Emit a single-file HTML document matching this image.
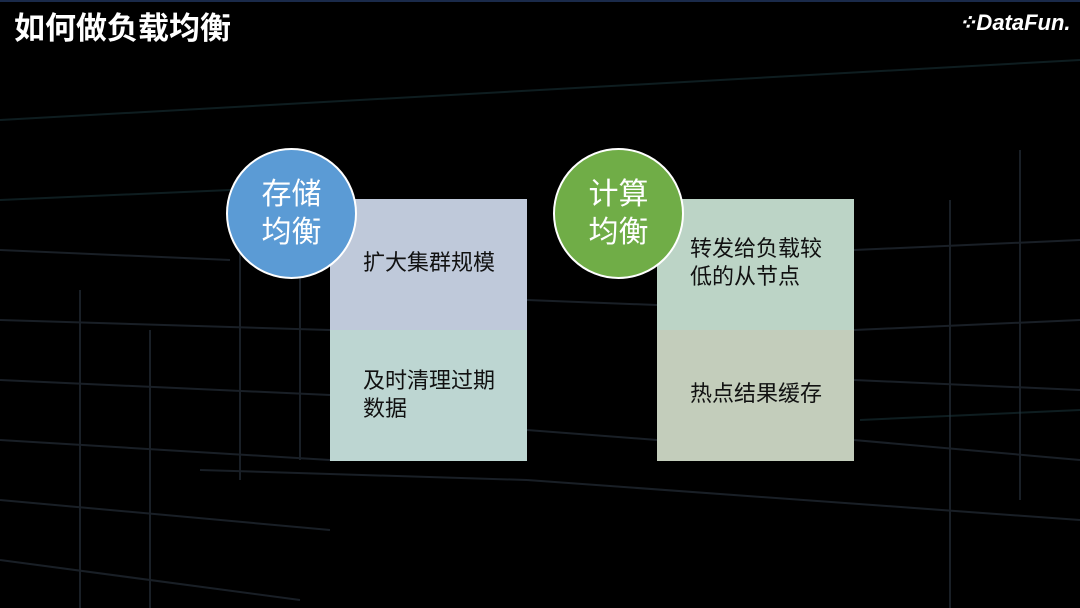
<!DOCTYPE html>
<html><head><meta charset="utf-8"><style>
body{margin:0;width:1080px;height:608px;overflow:hidden;background:#000;position:relative;font-family:"Liberation Sans","Noto Sans CJK SC",sans-serif}
.a{position:absolute}
.title{left:14px;top:3px;font-size:31px;font-weight:bold;color:#fff;letter-spacing:0px}
.box{position:absolute;width:197px;height:131px;box-sizing:border-box;font-size:22px;color:#111;line-height:28px;padding-left:33px}
.c{position:absolute;width:128px;height:128px;border-radius:50%;border:2px solid #fff;box-sizing:border-box;color:#fff;font-size:30px;line-height:38px;text-align:center;display:flex;align-items:center;justify-content:center}
</style></head><body>
<svg class="a" style="left:0;top:0" width="1080" height="608">
<rect x="0" y="0" width="1080" height="2" fill="#1a2a4a"/>
<g stroke="#2a3440" stroke-width="2" fill="none" opacity="0.6">
<path d="M0 320 L330 330"/><path d="M0 380 L330 395"/><path d="M0 440 L330 460"/>
<path d="M0 500 L330 530"/><path d="M0 560 L300 600"/><path d="M80 290 L80 608"/>
<path d="M150 330 L150 608"/><path d="M240 200 L240 480"/><path d="M300 250 L300 460"/>
<path d="M854 330 L1080 320"/><path d="M854 380 L1080 390"/><path d="M854 250 L1080 240"/>
<path d="M854 440 L1080 460"/><path d="M950 200 L950 608"/><path d="M1020 150 L1020 500"/>
<path d="M527 430 L657 440"/><path d="M527 300 L657 305"/><path d="M0 250 L230 260"/>
<path d="M527 480 L1080 520"/><path d="M200 470 L527 480"/>
</g>
<g stroke="#1d3a40" stroke-width="2" opacity="0.5"><path d="M860 420 L1080 410"/><path d="M0 200 L230 190"/><path d="M0 120 L1080 60"/></g>
</svg>
<div class="a title">如何做负载均衡</div>
<div class="box" style="left:330px;top:199px;background:#bfc9da;padding-top:50px">扩大集群规模</div>
<div class="box" style="left:330px;top:330px;background:#bdd6d2;height:131px;padding-top:37px">及时清理过期<br>数据</div>
<div class="c" style="left:226px;top:148px;width:131px;height:131px;background:#5b9bd5">存储<br>均衡</div>
<div class="box" style="left:657px;top:199px;background:#bcd4c6;padding-top:36px">转发给负载较<br>低的从节点</div>
<div class="box" style="left:657px;top:330px;background:#c3cdbb;padding-top:50px">热点结果缓存</div>
<div class="c" style="left:553px;top:148px;width:131px;height:131px;background:#70ad47">计算<br>均衡</div>
<div class="a" style="left:958px;top:10px;color:#fff;font-size:22px;font-weight:bold;font-style:italic">⁘DataFun.</div>
</body></html>
